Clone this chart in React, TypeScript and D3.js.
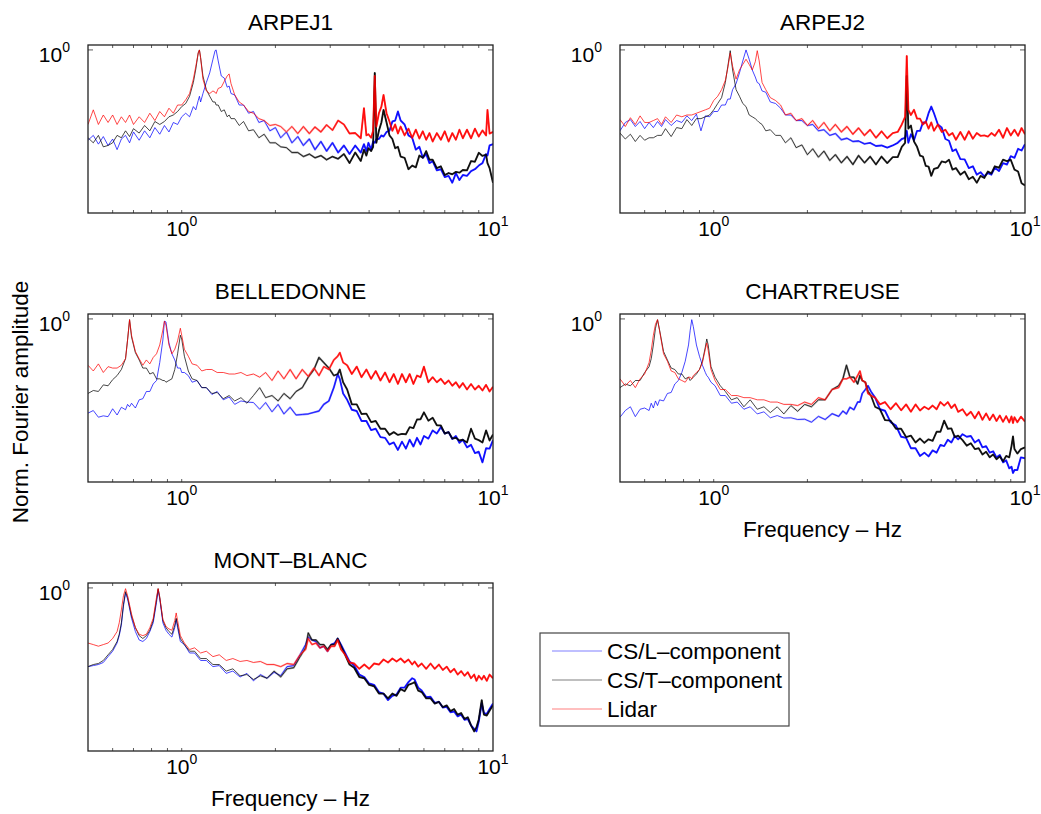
import React from 'react';
import * as d3 from 'd3';

// Normalised Fourier amplitude spectra.
// Each panel has its own frequency grid (Hz); three series per panel.

const P1_FREQ = [
  0.50, 0.52, 0.54, 0.56, 0.58, 0.60, 0.62, 0.64, 0.66, 0.68,
  0.70, 0.73, 0.76, 0.79, 0.82, 0.85, 0.88, 0.91, 0.94, 0.97,
  1.00, 1.03, 1.06, 1.09, 1.11, 1.13, 1.14, 1.15, 1.17, 1.20,
  1.23, 1.26, 1.28, 1.29, 1.31, 1.34, 1.37, 1.40, 1.42, 1.44,
  1.48, 1.53, 1.58, 1.64, 1.70, 1.77, 1.84, 1.92, 2.00, 2.08,
  2.17, 2.26, 2.36, 2.46, 2.57, 2.68, 2.80, 2.92, 3.05, 3.18,
  3.32, 3.46, 3.61, 3.76, 3.85, 3.92, 3.98, 4.06, 4.12, 4.17,
  4.22, 4.30, 4.38, 4.45, 4.55, 4.65, 4.75, 4.85, 4.95, 5.05,
  5.20, 5.35, 5.50, 5.65, 5.80, 5.95, 6.10, 6.25, 6.40, 6.60,
  6.80, 7.00, 7.20, 7.40, 7.60, 7.80, 8.00, 8.25, 8.50, 8.75,
  9.00, 9.25, 9.50, 9.60, 9.75, 10.00,
];
const P1_CSL = [
  0.29, 0.31, 0.275, 0.305, 0.27, 0.295, 0.255, 0.295, 0.31, 0.28,
  0.325, 0.29, 0.33, 0.30, 0.345, 0.315, 0.355, 0.325, 0.37, 0.36,
  0.40, 0.42, 0.40, 0.46, 0.44, 0.50, 0.53, 0.49, 0.55, 0.64,
  0.73, 0.88, 0.99, 1.00, 0.86, 0.70, 0.68, 0.60, 0.61, 0.55,
  0.54, 0.47, 0.47, 0.42, 0.43, 0.37, 0.38, 0.33, 0.345, 0.30,
  0.325, 0.28, 0.305, 0.27, 0.295, 0.255, 0.285, 0.25, 0.28, 0.245,
  0.27, 0.24, 0.27, 0.245, 0.275, 0.25, 0.28, 0.255, 0.285, 0.28,
  0.295, 0.295, 0.31, 0.305, 0.325, 0.33, 0.375, 0.38, 0.43, 0.38,
  0.36, 0.31, 0.30, 0.255, 0.265, 0.228, 0.24, 0.212, 0.218, 0.192,
  0.195, 0.175, 0.178, 0.162, 0.185, 0.168, 0.18, 0.178, 0.19, 0.195,
  0.205, 0.212, 0.24, 0.235, 0.27, 0.275,
];
const P1_CST = [
  0.30, 0.28, 0.31, 0.265, 0.27, 0.28, 0.31, 0.30, 0.33, 0.305,
  0.34, 0.32, 0.355, 0.33, 0.375, 0.36, 0.375, 0.40, 0.41, 0.43,
  0.46, 0.48, 0.53, 0.64, 0.77, 0.96, 1.00, 0.90, 0.70, 0.58,
  0.53, 0.49, 0.49, 0.47, 0.47, 0.43, 0.44, 0.40, 0.41, 0.39,
  0.39, 0.355, 0.375, 0.33, 0.335, 0.30, 0.315, 0.28, 0.28, 0.265,
  0.262, 0.245, 0.245, 0.232, 0.24, 0.228, 0.235, 0.222, 0.232, 0.225,
  0.24, 0.212, 0.245, 0.218, 0.255, 0.235, 0.26, 0.25, 0.265, 0.73,
  0.28, 0.33, 0.37, 0.44, 0.37, 0.31, 0.295, 0.26, 0.265, 0.232,
  0.228, 0.195, 0.205, 0.20, 0.235, 0.228, 0.25, 0.222, 0.222, 0.198,
  0.203, 0.18, 0.185, 0.182, 0.188, 0.186, 0.193, 0.192, 0.218, 0.216,
  0.244, 0.234, 0.238, 0.212, 0.198, 0.162,
];
const P1_LIDAR = [
  0.36, 0.44, 0.36, 0.41, 0.37, 0.41, 0.36, 0.40, 0.37, 0.41,
  0.36, 0.40, 0.37, 0.42, 0.38, 0.43, 0.40, 0.45, 0.42, 0.47,
  0.47, 0.505, 0.55, 0.67, 0.80, 0.96, 1.00, 0.90, 0.67, 0.57,
  0.55, 0.57, 0.56, 0.55, 0.59, 0.60, 0.65, 0.70, 0.72, 0.63,
  0.54, 0.49, 0.47, 0.43, 0.42, 0.39, 0.38, 0.355, 0.36, 0.35,
  0.325, 0.35, 0.318, 0.35, 0.318, 0.348, 0.325, 0.358, 0.333, 0.38,
  0.36, 0.318, 0.32, 0.298, 0.45, 0.31, 0.315, 0.30, 0.33, 0.70,
  0.35, 0.42, 0.46, 0.54, 0.42, 0.375, 0.33, 0.36, 0.318, 0.35,
  0.31, 0.34, 0.30, 0.335, 0.297, 0.328, 0.292, 0.32, 0.285, 0.32,
  0.292, 0.328, 0.285, 0.32, 0.292, 0.335, 0.298, 0.335, 0.298, 0.34,
  0.305, 0.332, 0.31, 0.44, 0.318, 0.325,
];

const P2_FREQ = [
  0.50, 0.52, 0.54, 0.56, 0.58, 0.60, 0.62, 0.64, 0.66, 0.68,
  0.70, 0.73, 0.76, 0.79, 0.82, 0.85, 0.88, 0.91, 0.94, 0.97,
  1.00, 1.03, 1.06, 1.09, 1.11, 1.13, 1.15, 1.18, 1.21, 1.24,
  1.27, 1.30, 1.33, 1.36, 1.38, 1.40, 1.43, 1.47, 1.52, 1.58,
  1.64, 1.70, 1.77, 1.84, 1.92, 2.00, 2.08, 2.17, 2.26, 2.36,
  2.46, 2.57, 2.68, 2.80, 2.92, 3.05, 3.18, 3.32, 3.46, 3.61,
  3.76, 3.90, 4.02, 4.12, 4.17, 4.22, 4.30, 4.40, 4.50, 4.60,
  4.70, 4.80, 4.90, 5.00, 5.10, 5.25, 5.40, 5.55, 5.70, 5.85,
  6.00, 6.20, 6.40, 6.60, 6.80, 7.00, 7.20, 7.40, 7.60, 7.80,
  8.00, 8.25, 8.50, 8.75, 9.00, 9.25, 9.50, 9.75, 10.00,
];
const P2_CSL = [
  0.33, 0.37, 0.385, 0.35, 0.375, 0.34, 0.37, 0.345, 0.375, 0.35,
  0.385, 0.355, 0.38, 0.37, 0.405, 0.38, 0.415, 0.33, 0.405, 0.40,
  0.43, 0.43, 0.47, 0.47, 0.51, 0.51, 0.58, 0.63, 0.73, 0.86,
  1.00, 0.88, 0.76, 0.69, 0.64, 0.63, 0.57, 0.56, 0.49, 0.48,
  0.45, 0.41, 0.41, 0.38, 0.38, 0.355, 0.36, 0.33, 0.335, 0.31,
  0.318, 0.292, 0.298, 0.285, 0.287, 0.276, 0.28, 0.268, 0.27, 0.262,
  0.27, 0.28, 0.295, 0.30, 0.33, 0.28, 0.315, 0.29, 0.33, 0.33,
  0.37, 0.37, 0.42, 0.46, 0.42, 0.36, 0.345, 0.295, 0.288, 0.25,
  0.256, 0.224, 0.223, 0.198, 0.203, 0.181, 0.187, 0.177, 0.185, 0.181,
  0.199, 0.19, 0.212, 0.208, 0.233, 0.228, 0.258, 0.252, 0.275,
];
const P2_CST = [
  0.32, 0.295, 0.315, 0.285, 0.31, 0.29, 0.30, 0.30, 0.31, 0.31,
  0.34, 0.305, 0.345, 0.34, 0.385, 0.355, 0.39, 0.39, 0.40, 0.41,
  0.44, 0.48, 0.52, 0.64, 0.80, 0.99, 0.76, 0.58, 0.53, 0.48,
  0.46, 0.41, 0.40, 0.39, 0.38, 0.37, 0.36, 0.33, 0.335, 0.31,
  0.31, 0.28, 0.30, 0.262, 0.272, 0.238, 0.258, 0.23, 0.25, 0.22,
  0.238, 0.213, 0.232, 0.208, 0.235, 0.213, 0.232, 0.208, 0.232, 0.212,
  0.23, 0.23, 0.265, 0.28, 0.70, 0.34, 0.355, 0.285, 0.265, 0.235,
  0.232, 0.204, 0.202, 0.178, 0.196, 0.199, 0.217, 0.214, 0.222, 0.194,
  0.198, 0.181, 0.189, 0.17, 0.176, 0.162, 0.178, 0.173, 0.189, 0.184,
  0.203, 0.199, 0.222, 0.218, 0.222, 0.194, 0.189, 0.161, 0.156,
];
const P2_LIDAR = [
  0.385, 0.35, 0.395, 0.36, 0.405, 0.37, 0.37, 0.38, 0.39, 0.36,
  0.40, 0.37, 0.41, 0.40, 0.41, 0.41, 0.42, 0.43, 0.44, 0.45,
  0.50, 0.53, 0.58, 0.66, 0.78, 0.96, 0.80, 0.67, 0.76, 0.82,
  0.88, 0.82, 0.76, 0.85, 0.99, 0.86, 0.64, 0.58, 0.52, 0.50,
  0.47, 0.41, 0.42, 0.38, 0.39, 0.355, 0.38, 0.34, 0.37, 0.33,
  0.36, 0.325, 0.35, 0.315, 0.343, 0.31, 0.335, 0.30, 0.328, 0.298,
  0.32, 0.325, 0.36, 0.40, 0.92, 0.44, 0.41, 0.44, 0.39, 0.39,
  0.36, 0.375, 0.34, 0.37, 0.33, 0.36, 0.325, 0.335, 0.31, 0.32,
  0.292, 0.325, 0.292, 0.328, 0.296, 0.32, 0.308, 0.31, 0.305, 0.32,
  0.308, 0.335, 0.30, 0.343, 0.31, 0.335, 0.308, 0.343, 0.315,
];

const P3_FREQ = [
  0.50, 0.52, 0.54, 0.56, 0.58, 0.60, 0.62, 0.64, 0.66, 0.67,
  0.68, 0.69, 0.71, 0.73, 0.75, 0.77, 0.79, 0.81, 0.83, 0.85,
  0.87, 0.88, 0.89, 0.91, 0.93, 0.95, 0.97, 0.99, 1.00, 1.02,
  1.05, 1.08, 1.12, 1.16, 1.20, 1.25, 1.30, 1.36, 1.42, 1.48,
  1.55, 1.62, 1.70, 1.78, 1.86, 1.95, 2.04, 2.13, 2.23, 2.33,
  2.44, 2.55, 2.66, 2.76, 2.86, 2.97, 3.08, 3.17, 3.22, 3.30,
  3.40, 3.52, 3.65, 3.78, 3.92, 4.06, 4.20, 4.35, 4.50, 4.65,
  4.80, 4.95, 5.10, 5.25, 5.40, 5.55, 5.70, 5.85, 6.00, 6.20,
  6.40, 6.60, 6.80, 7.00, 7.20, 7.40, 7.60, 7.80, 8.00, 8.25,
  8.50, 8.75, 9.00, 9.25, 9.50, 9.75, 10.00,
];
const P3_CSL = [
  0.275, 0.285, 0.26, 0.265, 0.262, 0.292, 0.268, 0.298, 0.288, 0.31,
  0.30, 0.315, 0.295, 0.33, 0.335, 0.37, 0.37, 0.41, 0.43, 0.55,
  0.75, 0.97, 0.96, 0.72, 0.62, 0.57, 0.51, 0.51, 0.48, 0.48,
  0.46, 0.42, 0.43, 0.39, 0.39, 0.355, 0.37, 0.33, 0.343, 0.31,
  0.325, 0.32, 0.318, 0.29, 0.318, 0.28, 0.31, 0.272, 0.298, 0.268,
  0.27, 0.272, 0.278, 0.283, 0.31, 0.325, 0.39, 0.47, 0.44, 0.36,
  0.33, 0.288, 0.283, 0.247, 0.247, 0.218, 0.222, 0.198, 0.196, 0.179,
  0.184, 0.166, 0.186, 0.169, 0.191, 0.174, 0.196, 0.179, 0.201, 0.194,
  0.217, 0.208, 0.227, 0.208, 0.212, 0.193, 0.201, 0.183, 0.191, 0.172,
  0.178, 0.159, 0.162, 0.14, 0.17, 0.169, 0.19,
];
const P3_CST = [
  0.36, 0.375, 0.37, 0.405, 0.40, 0.435, 0.46, 0.50, 0.58, 0.75,
  0.99, 0.78, 0.63, 0.57, 0.51, 0.51, 0.47, 0.48, 0.44, 0.44,
  0.43, 0.43, 0.42, 0.43, 0.44, 0.50, 0.62, 0.80, 0.76, 0.60,
  0.49, 0.44, 0.43, 0.39, 0.39, 0.36, 0.365, 0.335, 0.35, 0.325,
  0.34, 0.315, 0.35, 0.39, 0.34, 0.35, 0.325, 0.36, 0.335, 0.37,
  0.39, 0.45, 0.50, 0.59, 0.55, 0.51, 0.46, 0.47, 0.50, 0.42,
  0.38, 0.31, 0.31, 0.272, 0.273, 0.243, 0.247, 0.222, 0.222, 0.204,
  0.212, 0.204, 0.207, 0.206, 0.227, 0.224, 0.252, 0.253, 0.278, 0.248,
  0.258, 0.233, 0.232, 0.208, 0.212, 0.194, 0.196, 0.189, 0.191, 0.184,
  0.222, 0.194, 0.19, 0.184, 0.217, 0.189, 0.205,
];
const P3_LIDAR = [
  0.53, 0.49, 0.54, 0.48, 0.52, 0.51, 0.51, 0.53, 0.58, 0.75,
  0.99, 0.80, 0.64, 0.58, 0.53, 0.57, 0.54, 0.59, 0.62, 0.70,
  0.86, 0.97, 0.92, 0.70, 0.62, 0.66, 0.74, 0.88, 0.80, 0.66,
  0.60, 0.54, 0.53, 0.49, 0.50, 0.50, 0.48, 0.48, 0.47, 0.47,
  0.48, 0.46, 0.47, 0.45, 0.48, 0.43, 0.49, 0.44, 0.50, 0.44,
  0.50, 0.455, 0.51, 0.46, 0.52, 0.50, 0.57, 0.60, 0.63, 0.55,
  0.53, 0.47, 0.52, 0.45, 0.50, 0.44, 0.49, 0.43, 0.48, 0.42,
  0.47, 0.41, 0.47, 0.42, 0.47, 0.41, 0.46, 0.45, 0.52, 0.42,
  0.45, 0.42, 0.44, 0.41, 0.43, 0.40, 0.42, 0.39, 0.415, 0.38,
  0.41, 0.38, 0.40, 0.375, 0.405, 0.37, 0.395,
];

const P4_FREQ = [
  0.50, 0.52, 0.54, 0.56, 0.58, 0.60, 0.62, 0.63, 0.64, 0.65,
  0.66, 0.67, 0.69, 0.71, 0.73, 0.75, 0.77, 0.79, 0.81, 0.83,
  0.84, 0.85, 0.86, 0.88, 0.90, 0.92, 0.94, 0.95, 0.96, 0.98,
  1.01, 1.05, 1.09, 1.14, 1.19, 1.25, 1.31, 1.38, 1.45, 1.52,
  1.60, 1.68, 1.77, 1.86, 1.96, 2.06, 2.17, 2.28, 2.40, 2.52,
  2.60, 2.67, 2.74, 2.82, 2.90, 2.95, 3.00, 3.07, 3.13, 3.20,
  3.30, 3.42, 3.55, 3.70, 3.85, 4.00, 4.15, 4.30, 4.45, 4.60,
  4.75, 4.90, 5.05, 5.20, 5.35, 5.50, 5.65, 5.80, 5.95, 6.10,
  6.30, 6.50, 6.70, 6.90, 7.10, 7.30, 7.50, 7.70, 7.90, 8.10,
  8.30, 8.50, 8.70, 8.90, 9.05, 9.15, 9.25, 9.45, 9.70, 10.00,
];
const P4_CSL = [
  0.26, 0.285, 0.30, 0.262, 0.29, 0.295, 0.285, 0.315, 0.295, 0.325,
  0.305, 0.33, 0.325, 0.36, 0.365, 0.41, 0.43, 0.48, 0.56, 0.70,
  0.85, 0.99, 0.90, 0.70, 0.60, 0.53, 0.48, 0.46, 0.45, 0.42,
  0.40, 0.35, 0.35, 0.315, 0.32, 0.29, 0.30, 0.272, 0.28, 0.258,
  0.266, 0.257, 0.258, 0.252, 0.253, 0.243, 0.263, 0.252, 0.273, 0.263,
  0.283, 0.272, 0.298, 0.288, 0.32, 0.32, 0.36, 0.38, 0.40, 0.37,
  0.34, 0.29, 0.284, 0.243, 0.232, 0.199, 0.196, 0.17, 0.17, 0.153,
  0.16, 0.152, 0.165, 0.16, 0.178, 0.175, 0.191, 0.184, 0.201, 0.192,
  0.206, 0.199, 0.201, 0.184, 0.191, 0.172, 0.175, 0.16, 0.163, 0.15,
  0.155, 0.14, 0.144, 0.129, 0.132, 0.121, 0.126, 0.126, 0.15, 0.148,
];
const P4_CST = [
  0.39, 0.41, 0.40, 0.43, 0.43, 0.48, 0.52, 0.58, 0.70, 0.88,
  0.99, 0.86, 0.64, 0.57, 0.51, 0.50, 0.47, 0.47, 0.44, 0.45,
  0.43, 0.44, 0.45, 0.47, 0.50, 0.56, 0.68, 0.76, 0.70, 0.52,
  0.45, 0.40, 0.37, 0.33, 0.34, 0.30, 0.33, 0.29, 0.30, 0.277,
  0.30, 0.272, 0.305, 0.282, 0.31, 0.30, 0.33, 0.33, 0.38, 0.40,
  0.44, 0.53, 0.45, 0.45, 0.41, 0.46, 0.43, 0.42, 0.37, 0.35,
  0.30, 0.29, 0.25, 0.248, 0.222, 0.222, 0.198, 0.202, 0.184, 0.194,
  0.183, 0.192, 0.188, 0.213, 0.213, 0.248, 0.222, 0.223, 0.198, 0.202,
  0.19, 0.176, 0.182, 0.168, 0.17, 0.156, 0.162, 0.15, 0.156, 0.146,
  0.152, 0.142, 0.153, 0.15, 0.175, 0.20, 0.168, 0.158, 0.168, 0.172,
];
const P4_LIDAR = [
  0.44, 0.40, 0.43, 0.39, 0.44, 0.47, 0.55, 0.65, 0.80, 0.93,
  0.99, 0.85, 0.62, 0.56, 0.49, 0.48, 0.44, 0.43, 0.42, 0.45,
  0.45, 0.44, 0.46, 0.48, 0.50, 0.55, 0.66, 0.72, 0.65, 0.50,
  0.43, 0.38, 0.38, 0.35, 0.35, 0.34, 0.34, 0.33, 0.33, 0.32,
  0.32, 0.31, 0.31, 0.305, 0.32, 0.31, 0.34, 0.33, 0.38, 0.39,
  0.44, 0.44, 0.45, 0.42, 0.46, 0.49, 0.43, 0.42, 0.36, 0.35,
  0.34, 0.31, 0.32, 0.29, 0.315, 0.286, 0.31, 0.28, 0.31, 0.285,
  0.30, 0.29, 0.305, 0.29, 0.32, 0.305, 0.32, 0.295, 0.31, 0.28,
  0.29, 0.266, 0.28, 0.256, 0.28, 0.251, 0.274, 0.25, 0.27, 0.247,
  0.266, 0.244, 0.264, 0.242, 0.263, 0.24, 0.26, 0.243, 0.262, 0.245,
];

const P5_FREQ = [
  0.50, 0.52, 0.54, 0.56, 0.58, 0.60, 0.62, 0.63, 0.64, 0.65,
  0.66, 0.67, 0.69, 0.71, 0.73, 0.75, 0.77, 0.79, 0.81, 0.83,
  0.84, 0.85, 0.87, 0.89, 0.91, 0.93, 0.95, 0.96, 0.97, 0.99,
  1.02, 1.06, 1.10, 1.15, 1.20, 1.26, 1.32, 1.39, 1.46, 1.54,
  1.62, 1.70, 1.79, 1.88, 1.98, 2.08, 2.18, 2.29, 2.40, 2.50,
  2.55, 2.62, 2.70, 2.78, 2.86, 2.94, 3.02, 3.10, 3.17, 3.25,
  3.35, 3.46, 3.58, 3.72, 3.86, 4.00, 4.15, 4.30, 4.45, 4.60,
  4.75, 4.90, 5.05, 5.20, 5.35, 5.50, 5.60, 5.75, 5.90, 6.10,
  6.30, 6.50, 6.70, 6.90, 7.10, 7.30, 7.50, 7.70, 7.90, 8.10,
  8.30, 8.50, 8.70, 8.85, 9.00, 9.20, 9.35, 9.55, 9.75, 10.00,
];
const P5_CSL = [
  0.34, 0.345, 0.35, 0.36, 0.39, 0.42, 0.47, 0.52, 0.60, 0.78,
  0.93, 0.86, 0.66, 0.55, 0.49, 0.48, 0.50, 0.55, 0.62, 0.82,
  0.97, 0.86, 0.62, 0.56, 0.53, 0.51, 0.58, 0.65, 0.58, 0.48,
  0.46, 0.41, 0.41, 0.37, 0.37, 0.34, 0.345, 0.31, 0.32, 0.295,
  0.31, 0.28, 0.305, 0.29, 0.315, 0.30, 0.34, 0.345, 0.40, 0.46,
  0.51, 0.49, 0.48, 0.44, 0.45, 0.42, 0.46, 0.47, 0.50, 0.46,
  0.41, 0.365, 0.345, 0.305, 0.295, 0.27, 0.265, 0.24, 0.235, 0.215,
  0.228, 0.232, 0.255, 0.255, 0.275, 0.29, 0.285, 0.255, 0.245, 0.224,
  0.225, 0.207, 0.21, 0.194, 0.196, 0.182, 0.184, 0.172, 0.176, 0.164,
  0.166, 0.152, 0.145, 0.14, 0.16, 0.205, 0.18, 0.178, 0.19, 0.205,
];
const P5_CST = [
  0.34, 0.35, 0.355, 0.37, 0.40, 0.43, 0.48, 0.53, 0.62, 0.80,
  0.95, 0.88, 0.68, 0.58, 0.52, 0.50, 0.52, 0.56, 0.64, 0.85,
  0.99, 0.88, 0.64, 0.58, 0.55, 0.53, 0.60, 0.66, 0.60, 0.50,
  0.46, 0.42, 0.42, 0.38, 0.38, 0.35, 0.35, 0.32, 0.33, 0.30,
  0.305, 0.285, 0.30, 0.29, 0.32, 0.295, 0.33, 0.335, 0.39, 0.44,
  0.54, 0.49, 0.49, 0.46, 0.46, 0.43, 0.46, 0.46, 0.50, 0.45,
  0.40, 0.35, 0.335, 0.295, 0.29, 0.265, 0.26, 0.235, 0.235, 0.22,
  0.235, 0.228, 0.25, 0.243, 0.265, 0.27, 0.275, 0.245, 0.24, 0.22,
  0.22, 0.205, 0.21, 0.195, 0.20, 0.185, 0.19, 0.176, 0.18, 0.166,
  0.17, 0.152, 0.14, 0.148, 0.165, 0.215, 0.176, 0.174, 0.186, 0.20,
];
const P5_LIDAR = [
  0.47, 0.46, 0.45, 0.46, 0.47, 0.50, 0.55, 0.62, 0.74, 0.90,
  0.99, 0.90, 0.70, 0.58, 0.53, 0.52, 0.53, 0.58, 0.66, 0.88,
  0.99, 0.88, 0.65, 0.59, 0.57, 0.56, 0.64, 0.71, 0.64, 0.52,
  0.47, 0.43, 0.44, 0.41, 0.42, 0.39, 0.40, 0.37, 0.38, 0.365,
  0.37, 0.36, 0.365, 0.35, 0.35, 0.34, 0.355, 0.35, 0.40, 0.43,
  0.50, 0.46, 0.47, 0.44, 0.45, 0.42, 0.45, 0.45, 0.49, 0.43,
  0.40, 0.36, 0.355, 0.33, 0.35, 0.33, 0.355, 0.35, 0.375, 0.36,
  0.38, 0.365, 0.38, 0.36, 0.375, 0.35, 0.365, 0.34, 0.355, 0.33,
  0.355, 0.33, 0.35, 0.325, 0.34, 0.315, 0.33, 0.305, 0.32, 0.30,
  0.315, 0.29, 0.305, 0.28, 0.30, 0.285, 0.30, 0.28, 0.305, 0.29,
];

const TITLES = ['ARPEJ1', 'ARPEJ2', 'BELLEDONNE', 'CHARTREUSE', 'MONT\u2013BLANC'];
const SERIES_NAMES = ['CS/L\u2013component', 'CS/T\u2013component', 'Lidar'];
const SERIES_COLORS = ['#0000ff', '#000000', '#ff0000'];

const panels = [
  { title: TITLES[0], freq: P1_FREQ, series: [P1_CSL, P1_CST, P1_LIDAR], left: 88, top: 45, xlabel: false },
  { title: TITLES[1], freq: P2_FREQ, series: [P2_CSL, P2_CST, P2_LIDAR], left: 620, top: 45, xlabel: false },
  { title: TITLES[2], freq: P3_FREQ, series: [P3_CSL, P3_CST, P3_LIDAR], left: 88, top: 314, xlabel: false },
  { title: TITLES[3], freq: P4_FREQ, series: [P4_CSL, P4_CST, P4_LIDAR], left: 620, top: 314, xlabel: true },
  { title: TITLES[4], freq: P5_FREQ, series: [P5_CSL, P5_CST, P5_LIDAR], left: 88, top: 583, xlabel: true },
];

const W = 405;
const H = 168;
const FONT = 'Liberation Sans, Arial, Helvetica, sans-serif';
const LABEL_SIZE = 22.5;

const x = d3.scaleLog().domain([0.5, 10]).range([0, W]);
const y = d3.scaleLog().domain([0.107, 1.07]).range([H, 0]);
const line = d3.line().x(d => x(d[0])).y(d => y(d[1]));

const Panel = ({ p, idx }) => {
  const ticks = x.ticks().filter(t => t > 0.5 && t < 10);
  const majors = [1, 10];
  const paths = p.series.map(vals => line(p.freq.map((f, i) => [f, vals[i]]).filter(d => d[1] != null)));
  return (
    <g transform={`translate(${p.left},${p.top})`}>
      <defs>
        <clipPath id={`clip${idx}`}>
          <rect x={0} y={0} width={W} height={H} />
        </clipPath>
        {/* the dense FFT noise reads as a heavier band at high frequency */}
        <linearGradient id={`fade${idx}`} gradientUnits="userSpaceOnUse" x1={x(1.6)} x2={x(3.5)} y1={0} y2={0}>
          <stop offset="0" stopColor="#000" />
          <stop offset="1" stopColor="#fff" />
        </linearGradient>
        <mask id={`mask${idx}`} maskUnits="userSpaceOnUse" x={0} y={0} width={W} height={H}>
          <rect x={0} y={0} width={W} height={H} fill={`url(#fade${idx})`} />
        </mask>
      </defs>
      <g clipPath={`url(#clip${idx})`}>
        {paths.map((d, si) => (
          <path key={si} d={d} fill="none" stroke={SERIES_COLORS[si]}
            strokeWidth={1} strokeOpacity={0.72} strokeLinejoin="round" />
        ))}
        <g mask={`url(#mask${idx})`}>
          {paths.map((d, si) => (
            <path key={si} d={d} fill="none" stroke={SERIES_COLORS[si]}
              strokeWidth={1.9} strokeOpacity={0.85} strokeLinejoin="round" />
          ))}
        </g>
      </g>
      {ticks.map(t => (
        <g key={t}>
          <line x1={x(t)} x2={x(t)} y1={H} y2={H - 3} stroke="#333" strokeWidth={0.8} />
          <line x1={x(t)} x2={x(t)} y1={0} y2={3} stroke="#333" strokeWidth={0.8} />
        </g>
      ))}
      <line x1={0} x2={5} y1={y(1)} y2={y(1)} stroke="#333" strokeWidth={0.8} />
      <line x1={W} x2={W - 5} y1={y(1)} y2={y(1)} stroke="#333" strokeWidth={0.8} />
      <rect x={0} y={0} width={W} height={H} fill="none" stroke="#222" strokeWidth={1.3} />
      {majors.map((t, i) => (
        <text key={t} x={x(t)} y={H + 23} textAnchor="middle" fontSize={21} fontFamily={FONT} fill="#000">
          10<tspan dy={-10} fontSize={14}>{i}</tspan>
        </text>
      ))}
      <text x={-18} y={y(1) + 12} textAnchor="end" fontSize={21} fontFamily={FONT} fill="#000">
        10<tspan dy={-10} fontSize={14}>0</tspan>
      </text>
      <text x={W / 2} y={-15} textAnchor="middle" fontSize={LABEL_SIZE} fontFamily={FONT} fill="#000">{p.title}</text>
      {p.xlabel && (
        <text x={W / 2} y={H + 55} textAnchor="middle" fontSize={LABEL_SIZE} fontFamily={FONT} fill="#000">
          Frequency {'\u2013'} Hz
        </text>
      )}
    </g>
  );
};

export default function App() {
  return (
    <svg width={1041} height={814} style={{ position: 'absolute', left: 0, top: 0, background: '#fff' }}>
      <rect x={0} y={0} width={1041} height={814} fill="#fff" />
      {panels.map((p, i) => <Panel key={i} p={p} idx={i} />)}
      <text transform="translate(28,402) rotate(-90)" textAnchor="middle" fontSize={LABEL_SIZE} fontFamily={FONT} fill="#000">
        Norm. Fourier amplitude
      </text>
      <g transform="translate(540,633)">
        <rect x={0} y={0} width={249} height={93} fill="#fff" stroke="#444" strokeWidth={1.2} />
        {SERIES_NAMES.map((name, i) => (
          <g key={name} transform={`translate(0,${18 + i * 29})`}>
            <line x1={12} x2={62} y1={0} y2={0} stroke={SERIES_COLORS[i]} strokeOpacity={0.5} strokeWidth={1} />
            <text x={67} y={8} fontSize={LABEL_SIZE} fontFamily={FONT} fill="#000">{name}</text>
          </g>
        ))}
      </g>
    </svg>
  );
}
